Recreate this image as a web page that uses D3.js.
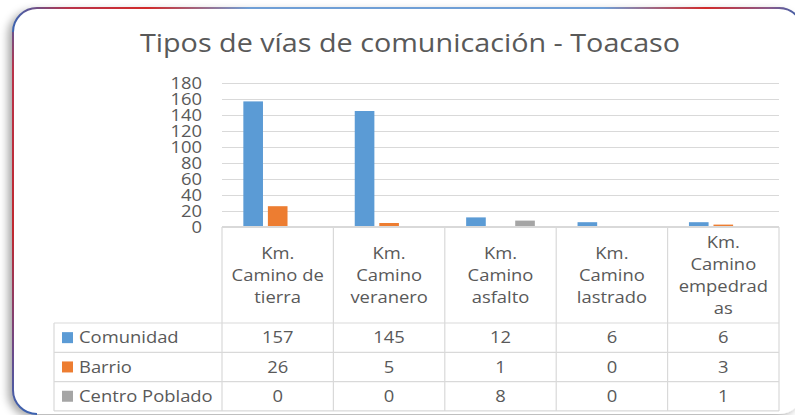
<!DOCTYPE html>
<html>
<head>
<meta charset="utf-8">
<script src="https://cdn.jsdelivr.net/npm/d3@7"></script>
<style>
  html, body { margin: 0; padding: 0; background: #fff; }
  svg { display: block; }
  text { font-family: "Open Sans", "DejaVu Sans", sans-serif; fill: #595959; }
</style>
</head>
<body>
<svg id="chart" width="795" height="415"></svg>
<script>
// datos
const categories = [
  ["Km.", "Camino de", "tierra"],
  ["Km.", "Camino", "veranero"],
  ["Km.", "Camino", "asfalto"],
  ["Km.", "Camino", "lastrado"],
  ["Km.", "Camino", "empedrad", "as"]
];
const seriesNames = ["Comunidad", "Barrio", "Centro Poblado"];
const comunidad     = [157, 145, 12, 6, 6];
const barrio        = [26, 5, 1, 0, 3];
const centroPoblado = [0, 0, 8, 0, 1];
const yTicks = [0, 20, 40, 60, 80, 100, 120, 140, 160, 180];
const colors = ["#5b9bd5", "#ed7d31", "#a5a5a5"];

const seriesValues = [comunidad, barrio, centroPoblado];

// layout
const SX = 1.15;            // texto un poco ensanchado como en la imagen
const plot = { left: 222, right: 779, top: 83, bottom: 227 };
const table = { left: 54, headBottom: 323, rowH: 29.3 };
const gridColor = "#d9d9d9";

const svg = d3.select("#chart");
const defs = svg.append("defs");

// sombra del marco
const f = defs.append("filter").attr("id", "shadow")
  .attr("x", "-5%").attr("y", "-5%").attr("width", "110%").attr("height", "110%");
f.append("feDropShadow").attr("dx", -5).attr("dy", 3).attr("stdDeviation", 4)
  .attr("flood-color", "#000").attr("flood-opacity", 0.35);

// gradientes del borde
const gTop = defs.append("linearGradient").attr("id", "gTop")
  .attr("gradientUnits", "userSpaceOnUse").attr("x1", 13).attr("x2", 800).attr("y1", 0).attr("y2", 0);
[[0, "#3d63b0"], [0.07, "#b8334a"], [0.17, "#d22a2a"], [0.3, "#6f9fd6"],
 [0.75, "#6f9fd6"], [0.88, "#d22a2a"], [0.96, "#8a5a8a"], [1, "#3d5fa8"]]
  .forEach(([o, c]) => gTop.append("stop").attr("offset", o).attr("stop-color", c));

const gLeft = defs.append("linearGradient").attr("id", "gLeft")
  .attr("gradientUnits", "userSpaceOnUse").attr("x1", 0).attr("x2", 0).attr("y1", 8).attr("y2", 414);
[[0, "#3d63b0"], [0.15, "#b8334a"], [0.55, "#c0282f"], [0.85, "#6a4a8a"], [1, "#3d63b0"]]
  .forEach(([o, c]) => gLeft.append("stop").attr("offset", o).attr("stop-color", c));

// marco
const frame = { x: 13, y: 8, w: 790, h: 406, r: 24 };
svg.append("rect")
  .attr("x", frame.x).attr("y", frame.y).attr("width", frame.w).attr("height", frame.h)
  .attr("rx", frame.r).attr("fill", "#fff").attr("filter", "url(#shadow)");

const r = frame.r;
svg.append("path")
  .attr("d", `M${frame.x},${frame.y + r} A${r},${r} 0 0 1 ${frame.x + r},${frame.y} L${frame.x + frame.w - r},${frame.y} A${r},${r} 0 0 1 ${frame.x + frame.w},${frame.y + r}`)
  .attr("fill", "none").attr("stroke", "url(#gTop)").attr("stroke-width", 2);
svg.append("path")
  .attr("d", `M${frame.x},${frame.y + r} L${frame.x},${frame.y + frame.h - r} A${r},${r} 0 0 0 ${frame.x + r},${frame.y + frame.h}`)
  .attr("fill", "none").attr("stroke", "url(#gLeft)").attr("stroke-width", 2);

// texto ensanchado
function label(parent, x, y, str, anchor, size, dy) {
  return parent.append("text")
    .attr("transform", `translate(${x},${y}) scale(${SX},1)`)
    .attr("text-anchor", anchor)
    .attr("font-size", size)
    .attr("dy", dy || 0)
    .text(str);
}

// título
label(svg, 410, 52, "Tipos de vías de comunicación - Toacaso", "middle", 25);

// escalas
const x0 = d3.scaleBand().domain(d3.range(categories.length))
  .range([plot.left, plot.right]).paddingInner(0).paddingOuter(0);
const x1 = d3.scaleBand().domain(d3.range(seriesNames.length))
  .range([0, x0.bandwidth()]).paddingInner(0.2).paddingOuter(0.87);
const y = d3.scaleLinear().domain([0, 180]).range([plot.bottom, plot.top]);

// rejilla
svg.append("g").selectAll("line").data(yTicks.slice(1)).join("line")
  .attr("x1", plot.left).attr("x2", plot.right)
  .attr("y1", d => Math.round(y(d)) + 0.5).attr("y2", d => Math.round(y(d)) + 0.5)
  .attr("stroke", gridColor).attr("stroke-width", 1);

// etiquetas eje y
const yAxisG = svg.append("g");
yTicks.forEach(t => label(yAxisG, 202, y(t), t, "end", 16, "0.35em"));

// barras
const groups = svg.append("g").selectAll("g")
  .data(categories).join("g")
  .attr("transform", (d, i) => `translate(${x0(i)},0)`);
groups.selectAll("rect")
  .data((d, i) => seriesValues.map((s, k) => ({ k, v: s[i] })))
  .join("rect")
  .attr("x", d => x1(d.k))
  .attr("width", x1.bandwidth())
  .attr("y", d => y(d.v))
  .attr("height", d => y(0) - y(d.v))
  .attr("fill", d => colors[d.k]);

// tabla de datos
const tbl = svg.append("g");
const rowsBottom = table.headBottom + table.rowH * seriesNames.length;
const line = (x1_, y1_, x2_, y2_, w) => tbl.append("line")
  .attr("x1", x1_).attr("y1", y1_).attr("x2", x2_).attr("y2", y2_)
  .attr("stroke", gridColor).attr("stroke-width", w || 1.2);

// eje (encima de las barras)
line(plot.left, plot.bottom, plot.right, plot.bottom, 2);

// líneas verticales
d3.range(categories.length + 1).forEach(i => {
  const xx = i < categories.length ? x0(i) : plot.right;
  line(xx, plot.bottom, xx, rowsBottom);
});
line(table.left, table.headBottom, table.left, rowsBottom);
// líneas horizontales
d3.range(seriesNames.length + 1).forEach(j => {
  const yy = table.headBottom + j * table.rowH;
  line(table.left, yy, plot.right, yy);
});

// encabezados de categoría
const lineH = 22;
categories.forEach((lines, i) => {
  const cx = x0(i) + x0.bandwidth() / 2;
  const cy = (plot.bottom + table.headBottom) / 2;
  lines.forEach((ln, j) => {
    const yy = cy + (j - (lines.length - 1) / 2) * lineH;
    label(tbl, cx, yy, ln, "middle", 16, "0.35em");
  });
});

// filas de series
seriesNames.forEach((name, k) => {
  const cy = table.headBottom + (k + 0.5) * table.rowH;
  tbl.append("rect")
    .attr("x", 62).attr("y", cy - 5.5).attr("width", 11).attr("height", 11)
    .attr("fill", colors[k]);
  label(tbl, 79, cy, name, "start", 16, "0.35em");
  seriesValues[k].forEach((v, i) => {
    label(tbl, x0(i) + x0.bandwidth() / 2, cy, v, "middle", 16, "0.35em");
  });
});
</script>
</body>
</html>
